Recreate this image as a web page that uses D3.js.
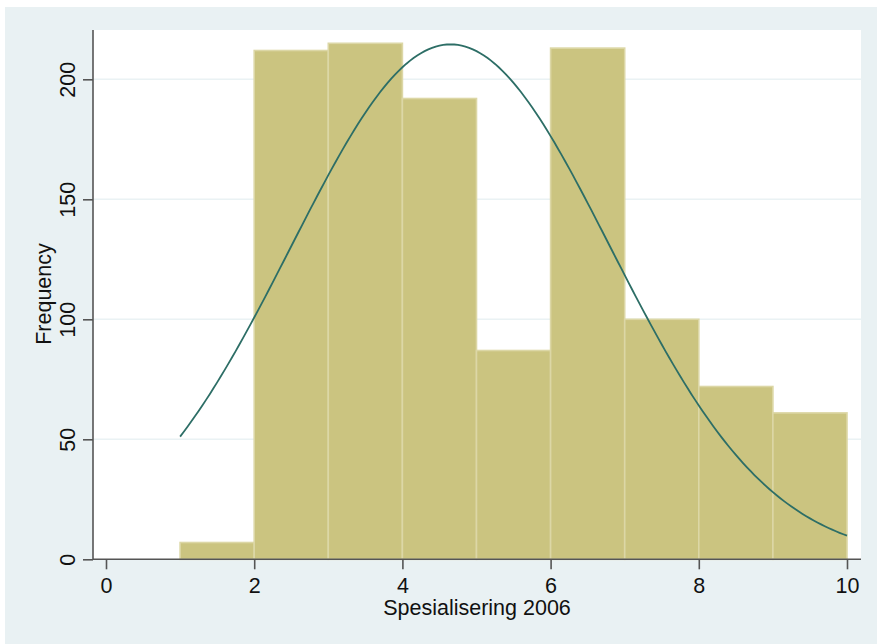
<!DOCTYPE html>
<html>
<head>
<meta charset="utf-8">
<script src="https://cdn.jsdelivr.net/npm/d3@7"></script>
<style>
  html, body { margin: 0; padding: 0; background: #ffffff; }
  svg { display: block; }
  text { font-family: "Liberation Sans", Arial, sans-serif; fill: #111; }
</style>
</head>
<body>
<svg id="chart" width="877" height="644"></svg>
<script>
// ---- data ----
const binStarts = [1, 2, 3, 4, 5, 6, 7, 8, 9];
const binWidth = 1;
const frequencies = [7, 212, 215, 192, 87, 213, 100, 72, 61];
const xTicks = [0, 2, 4, 6, 8, 10];
const yTicks = [0, 50, 100, 150, 200];
const fitMean = 4.65;   // normal overlay parameters
const fitSd = 2.155;
const xLabel = "Spesialisering 2006";
const yLabel = "Frequency";

const svg = d3.select("#chart");
const W = 877, H = 644;
const plot = { left: 93, right: 861, top: 30, bottom: 559.3 };

// outer graph region
svg.append("rect").attr("x", 5).attr("y", 7).attr("width", W - 5).attr("height", H - 7)
  .attr("fill", "#e9f1f3");
// plot region
svg.append("rect").attr("x", plot.left).attr("y", plot.top)
  .attr("width", plot.right - plot.left).attr("height", plot.bottom - plot.top)
  .attr("fill", "#ffffff");

const x = d3.scaleLinear().domain([0, 10]).range([106, 847]);
const y = d3.scaleLinear().domain([0, 200]).range([plot.bottom, plot.bottom - 480]);

// gridlines
svg.append("g").selectAll("line").data(yTicks.filter(d => d > 0)).join("line")
  .attr("x1", plot.left).attr("x2", plot.right)
  .attr("y1", d => y(d)).attr("y2", d => y(d))
  .attr("stroke", "#eaf2f4").attr("stroke-width", 1.5);

// bars
const bars = binStarts.map((s, i) => ({ x0: s, x1: s + binWidth, n: frequencies[i] }));
svg.append("g").selectAll("rect").data(bars).join("rect")
  .attr("x", d => x(d.x0))
  .attr("width", d => x(d.x1) - x(d.x0))
  .attr("y", d => y(d.n))
  .attr("height", d => y(0) - y(d.n))
  .attr("fill", "#cbc480")
  .attr("stroke", "#dcd7a6")
  .attr("stroke-width", 1.6);

// normal density overlay
const total = d3.sum(frequencies) * binWidth;
const dens = v => total / (fitSd * Math.sqrt(2 * Math.PI)) * Math.exp(-0.5 * ((v - fitMean) / fitSd) ** 2);
const curveX = d3.range(0, 181).map(i => 1 + i * 0.05);
svg.append("path")
  .datum(curveX)
  .attr("d", d3.line().x(d => x(d)).y(d => y(dens(d))).curve(d3.curveLinear))
  .attr("fill", "none")
  .attr("stroke", "#2d6e66")
  .attr("stroke-width", 1.8);

// y axis
const yAxis = svg.append("g").attr("transform", `translate(${plot.left},0)`)
  .call(d3.axisLeft(y).tickValues(yTicks).tickSize(10).tickFormat(d3.format("d")));
yAxis.select(".domain").attr("d", `M0,${plot.top}V${plot.bottom}`);
yAxis.selectAll("path, line").attr("stroke", "#555").attr("stroke-width", 1.6);
yAxis.selectAll("text")
  .attr("font-size", "21.5px")
  .attr("fill", "#111")
  .attr("x", 0).attr("dy", 0)
  .attr("text-anchor", "middle")
  .attr("transform", d => `translate(-18,0) rotate(-90)`);

// x axis
const xAxis = svg.append("g").attr("transform", `translate(0,${plot.bottom})`)
  .call(d3.axisBottom(x).tickValues(xTicks).tickSize(10).tickFormat(d3.format("d")));
xAxis.select(".domain").attr("d", `M${plot.left},0H${plot.right}`);
xAxis.selectAll("path, line").attr("stroke", "#555").attr("stroke-width", 1.6);
xAxis.selectAll("text")
  .attr("font-size", "21.5px")
  .attr("fill", "#111")
  .attr("y", 34).attr("dy", 0);

// axis titles
svg.append("text")
  .attr("x", (plot.left + plot.right) / 2).attr("y", 615)
  .attr("text-anchor", "middle").attr("font-size", "21.5px")
  .text(xLabel);
svg.append("text")
  .attr("transform", `translate(51,294) rotate(-90)`)
  .attr("text-anchor", "middle").attr("font-size", "21.5px")
  .text(yLabel);
</script>
</body>
</html>
